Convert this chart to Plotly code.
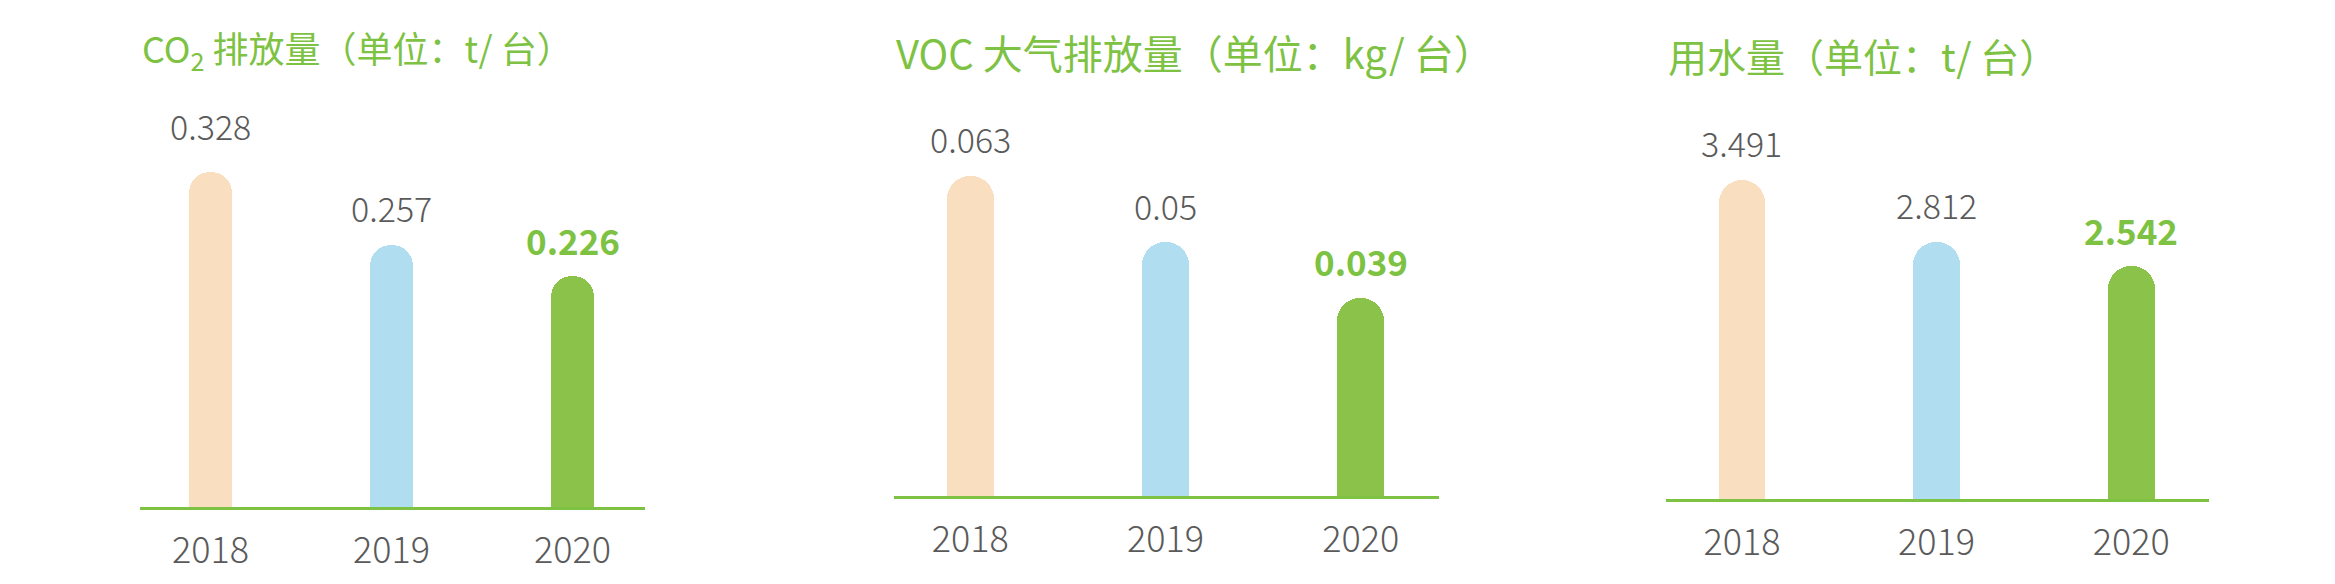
import plotly.graph_objects as go

years = ["2018", "2019", "2020"]

co2_values = [0.328, 0.257, 0.226]
voc_values = [0.063, 0.05, 0.039]
water_values = [3.491, 2.812, 2.542]

titles = [
    "CO<sub>2</sub> 排放量（单位：t/ 台）",
    "VOC 大气排放量（单位：kg/ 台）",
    "用水量（单位：t/ 台）",
]

bar_colors = ["#F9DFC0", "#B1DDF0", "#8BC34A"]
green = "#7DC242"
grey = "#5A5A5A"
font_family = "Noto Sans CJK SC, Noto Sans, sans-serif"

# the page body has an 8px margin, so the figure is drawn 8px in
PAD = 8
W, H = 2335 - PAD, 584 - PAD

# panel geometry in page pixels: left, right, baseline, px per unit, title
panels = [
    dict(values=co2_values, left=140, right=645, base=507, scale=1020,
         title_y=49, title_size=36),
    dict(values=voc_values, left=894, right=1439, base=496, scale=5080,
         title_y=52, title_size=40),
    dict(values=water_values, left=1666, right=2209, base=499, scale=91.5,
         title_y=55, title_size=39),
]
top_px = 80
# the first CO2 label sits a bit higher than the rest in the original
extra_lift = {(0, 0): 10}


def px(v):
    return v - PAD


fig = go.Figure()

for i, p in enumerate(panels):
    n = "" if i == 0 else str(i + 1)
    xa, ya = "x" + n, "y" + n
    fig.add_trace(go.Bar(
        x=years, y=p["values"], xaxis=xa, yaxis=ya,
        width=0.24,
        marker=dict(color=bar_colors, cornerradius="50%", line=dict(width=0)),
        hoverinfo="skip", showlegend=False,
    ))

    ymax = (p["base"] - top_px) / p["scale"]
    fig.layout["xaxis" + n] = dict(
        domain=[px(p["left"]) / W, px(p["right"]) / W],
        anchor=ya, type="category", range=[-0.39, 2.40],
        showline=True, linecolor=green, linewidth=3,
        showgrid=False, zeroline=False, ticks="", ticklabelstandoff=10,
        tickfont=dict(family=font_family, size=36, color=grey, weight=300),
        fixedrange=True,
    )
    fig.layout["yaxis" + n] = dict(
        domain=[(H - px(p["base"])) / H, (H - px(top_px)) / H],
        anchor=xa, range=[0, ymax],
        showline=False, showgrid=False, zeroline=False, showticklabels=False,
        fixedrange=True,
    )

    # value labels over the bars, last year highlighted
    for j, v in enumerate(p["values"]):
        last = j == len(p["values"]) - 1
        fig.add_annotation(
            x=j, y=v, xref=xa, yref=ya,
            text=f"<b>{v}</b>" if last else str(v), showarrow=False,
            yanchor="middle", yshift=37 + extra_lift.get((i, j), 0),
            font=dict(family=font_family, size=35 if last else 34,
                      color=green if last else grey,
                      weight=700 if last else 300),
        )

    fig.add_annotation(
        x=px(p["left"]) / W, y=(H - px(p["title_y"])) / H,
        xref="paper", yref="paper",
        text=titles[i], showarrow=False, xanchor="left", yanchor="middle",
        font=dict(family=font_family, size=p["title_size"], color=green),
    )

fig.update_layout(
    width=W, height=H,
    margin=dict(l=0, r=0, t=0, b=0),
    paper_bgcolor="white", plot_bgcolor="white",
    bargap=0,
)

fig.write_html("out.html")
